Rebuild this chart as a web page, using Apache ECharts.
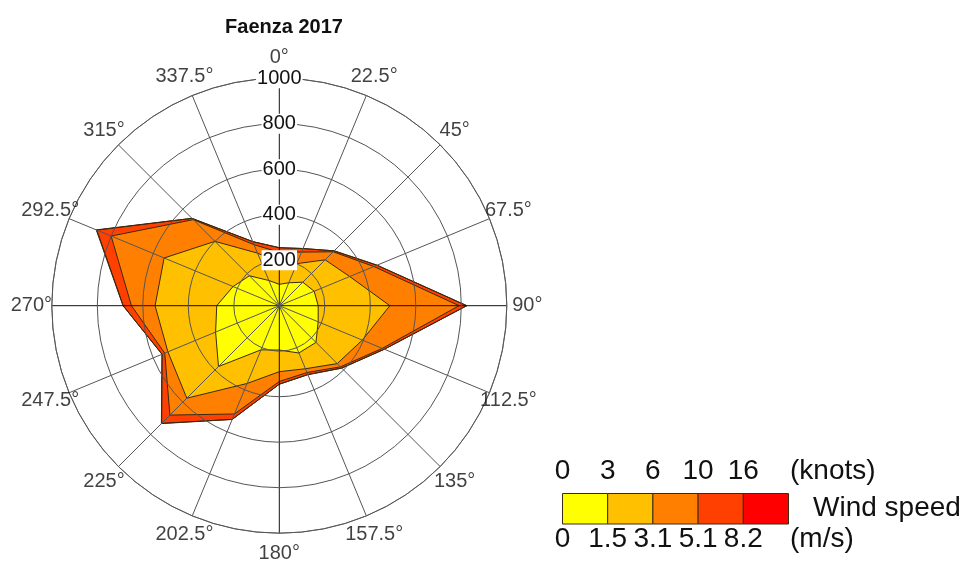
<!DOCTYPE html>
<html>
<head>
<meta charset="utf-8">
<title>Faenza 2017</title>
<script src="https://cdn.jsdelivr.net/npm/echarts@6/dist/echarts.min.js"></script>
<style>
html, body { margin: 0; padding: 0; background: #fff; }
#main { width: 966px; height: 561px; }
</style>
</head>
<body>
<div id="main"></div>
<script>
// directions, degrees clockwise from north
var directions = [0, 22.5, 45, 67.5, 90, 112.5, 135, 157.5, 180, 202.5, 225, 247.5, 270, 292.5, 315, 337.5];
// hours per speed class for each direction
var class1 = [94, 109, 146, 166, 171, 185, 228, 225, 195, 210, 378, 303, 275, 220, 186, 120];   // 0 - 1.5 m/s
var class2 = [96, 91, 139, 169, 315, 210, 132, 75, 95, 160, 197, 227, 271, 328, 214, 130];      // 1.5 - 3.1
var class3 = [45, 55, 50, 115, 304, 95, 20, 18, 43, 145, 105, 15, 104, 252, 135, 40];          // 3.1 - 5.1
var class4 = [20, 17, 6, 15, 33, 10, 8, 10, 12, 26, 51, 13, 36, 68, 8, 15];                     // 5.1 - 8.2
var class5 = [0, 0, 0, 0, 2, 0, 0, 0, 0, 0, 2, 0, 1, 3, 0, 0];                                  // > 8.2
var classColors = ['#ffff00', '#ffc000', '#ff8000', '#ff4000', '#ff0000'];
var knotsLabels = ['0', '3', '6', '10', '16'];
var msLabels = ['0', '1.5', '3.1', '5.1', '8.2'];

var font = '"Liberation Sans", Arial, sans-serif';
var chart = echarts.init(document.getElementById('main'));

var classes = [class1, class2, class3, class4, class5];
var series = [];

//cumulative polygons, outermost drawn first
for (var k = classes.length - 1; k >= 0; k--) {
  var pts = [];
  for (var i = 0; i < directions.length; i++) {
    var sum = 0;
    for (var j = 0; j <= k; j++) sum += classes[j][i];
    pts.push([sum, directions[i]]);
  }
  pts.push([pts[0][0], 360]);
  series.push({
    type: 'line',
    coordinateSystem: 'polar',
    data: pts,
    symbol: 'none',
    smooth: false,
    lineStyle: { color: '#3a2a10', width: 1 },
    areaStyle: { color: classColors[k], opacity: 1 },
    z: 2
  });
}

//direction labels
series.push({
  type: 'scatter',
  coordinateSystem: 'polar',
  clip: false,
  silent: true,
  symbolSize: 1,
  itemStyle: { color: 'rgba(0,0,0,0)' },
  data: directions.map(function (d) { return [1090, d]; }),
  label: {
    show: true,
    position: 'inside',
    color: '#111',
    fontSize: 20,
    fontFamily: font,
    formatter: function (p) { return p.value[1] + '°'; }
  },
  z: 10
});

//legend bar
var legX = 562.5, legW = 45.2, legY = 493.5, legH = 30.5;
var graphics = [];
classColors.forEach(function (c, i) {
  graphics.push({
    type: 'rect',
    shape: { x: legX + i * legW, y: legY, width: legW, height: legH },
    style: { fill: c, stroke: '#3a2a10', lineWidth: 1 }
  });
});
knotsLabels.forEach(function (t, i) {
  graphics.push({
    type: 'text', x: legX + i * legW, y: 471,
    style: { text: t, font: '28px ' + font, fill: '#111', textAlign: 'center', textVerticalAlign: 'middle' }
  });
});
msLabels.forEach(function (t, i) {
  graphics.push({
    type: 'text', x: legX + i * legW, y: 539,
    style: { text: t, font: '28px ' + font, fill: '#111', textAlign: 'center', textVerticalAlign: 'middle' }
  });
});
graphics.push({
  type: 'text', x: 790, y: 471,
  style: { text: '(knots)', font: '28px ' + font, fill: '#111', textAlign: 'left', textVerticalAlign: 'middle' }
});
graphics.push({
  type: 'text', x: 790, y: 539,
  style: { text: '(m/s)', font: '28px ' + font, fill: '#111', textAlign: 'left', textVerticalAlign: 'middle' }
});
graphics.push({
  type: 'text', x: 813, y: 508,
  style: { text: 'Wind speed', font: '28px ' + font, fill: '#111', textAlign: 'left', textVerticalAlign: 'middle' }
});

chart.setOption({
  animation: false,
  backgroundColor: '#fff',
  title: {
    text: 'Faenza 2017',
    left: 279,
    top: 12,
    textAlign: 'center',
    textStyle: { fontSize: 20, fontWeight: 'bold', color: '#111', fontFamily: font }
  },
  polar: {
    center: [279.3, 305.7],
    radius: 227.5
  },
  angleAxis: {
    type: 'value',
    min: 0,
    max: 360,
    interval: 22.5,
    startAngle: 90,
    clockwise: true,
    z: 3,
    axisLine: { show: true, lineStyle: { color: '#777', width: 1 } },
    axisTick: { show: false },
    axisLabel: { show: false },
    splitLine: { show: true, lineStyle: { color: ['#111', '#555', '#555', '#555'], width: 1 } }
  },
  radiusAxis: {
    type: 'value',
    min: 0,
    max: 1000,
    interval: 200,
    z: 4,
    axisLine: { show: false },
    axisTick: { show: false },
    splitLine: { show: true, lineStyle: { color: '#555', width: 1 } },
    axisLabel: {
      show: true,
      showMinLabel: false,
      margin: 0,
      align: 'center',
      verticalAlign: 'middle',
      backgroundColor: '#fff',
      padding: [0, 1],
      color: '#111',
      fontSize: 20,
      fontFamily: font,
      formatter: function (v) { return String(v); }
    }
  },
  graphic: graphics,
  series: series
});
</script>
</body>
</html>
